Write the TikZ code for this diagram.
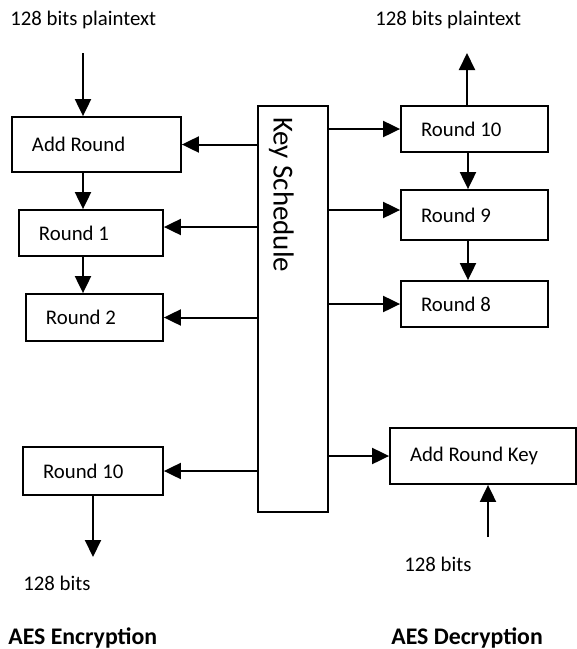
\documentclass[tikz,border=0pt]{standalone}
\usepackage{fontspec}
\setmainfont{Carlito}
\usetikzlibrary{arrows.meta}

\begin{document}
\begin{tikzpicture}[x=0.5pt,y=-0.5pt]
\tikzset{
  roundbox/.style={rectangle,draw=black,line width=0.9pt,inner xsep=10pt,inner ysep=0pt,align=flush left,font=\fontsize{10.4}{12}\selectfont},
  keybox/.style={rectangle,draw=black,line width=0.9pt,rotate=-90,inner xsep=5.5pt,inner ysep=0pt,align=flush left,text width=192pt,minimum height=35pt,text height=23pt,text depth=3.5pt,font=\fontsize{14.5}{17}\selectfont},
  plainlabel/.style={inner sep=0pt,anchor=west,font=\fontsize{10.4}{12}\selectfont},
  titlelabel/.style={inner sep=0pt,anchor=west,font=\fontsize{11.9}{14}\selectfont\bfseries},
  flow/.style={draw=black,line width=1pt,-{Triangle[length=8.5pt,width=8pt]}}
}
\useasboundingbox (0,0) rectangle (577,649);
% encryption side
\node[roundbox,text width=64.5pt,minimum height=27.5pt] (ar) at (96.5,144.5) {Add Round};
\node[roundbox,text width=52pt,minimum height=23pt] (r1) at (91,233) {Round 1};
\node[roundbox,text width=48.5pt,minimum height=23.5pt] (r2) at (94.5,317.5) {Round 2};
\node[roundbox,text width=50pt,minimum height=24pt] (r10e) at (93,471) {Round 10};
% key schedule
\node[keybox] (ks) at (293,309) {Key Schedule};
% decryption side
\node[roundbox,text width=53.5pt,minimum height=23pt] (r10d) at (474.5,129) {Round 10};
\node[roundbox,text width=53.5pt,minimum height=25pt] (r9d) at (474.5,215) {Round 9};
\node[roundbox,text width=53.5pt,minimum height=23pt] (r8d) at (474.5,304) {Round 8};
\node[roundbox,text width=73pt,minimum height=28pt] (ark) at (483,456) {Add Round Key};
% labels
\node[plainlabel] (enc_in) at (10,20) {128 bits plaintext};
\node[plainlabel] (dec_out) at (375,20) {128 bits plaintext};
\node[plainlabel] (enc_out) at (23,583) {128 bits};
\node[plainlabel] (dec_key) at (404,564) {128 bits};
\node[titlelabel] (enc_title) at (8,638) {AES Encryption};
\node[titlelabel] (dec_title) at (391,638) {AES Decryption};
% free ends and columns
\coordinate (encx) at (83,0);
\coordinate (decx) at (468,0);
\coordinate (ptin) at (83,53);
\coordinate (ptout) at (467,53);
\coordinate (ctout) at (93,557);
\coordinate (keyin) at (488,537);
\coordinate (r1key) at ([yshift=3pt]r1.east);
\coordinate (r9key) at ([yshift=2.5pt]r9d.west);
% data path
\draw[flow] (ptin) -- (ar.north -| ptin);
\draw[flow] (ar.south -| encx) -- (r1.north -| encx);
\draw[flow] (r1.south -| encx) -- (r2.north -| encx);
\draw[flow] (r10e.south) -- (ctout);
\draw[flow] (r10d.north -| ptout) -- (ptout);
\draw[flow] (r10d.south -| decx) -- (r9d.north -| decx);
\draw[flow] (r9d.south -| decx) -- (r8d.north -| decx);
\draw[flow] (keyin) -- (ark.south -| keyin);
% round keys
\draw[flow] (ks.south |- ar.east) -- (ar.east);
\draw[flow] (ks.south |- r1key) -- (r1key);
\draw[flow] (ks.south |- r2.east) -- (r2.east);
\draw[flow] (ks.south |- r10e.east) -- (r10e.east);
\draw[flow] (ks.north |- r10d.west) -- (r10d.west);
\draw[flow] (ks.north |- r9key) -- (r9key);
\draw[flow] (ks.north |- r8d.west) -- (r8d.west);
\draw[flow] (ks.north |- ark.west) -- (ark.west);
\end{tikzpicture}
\end{document}
